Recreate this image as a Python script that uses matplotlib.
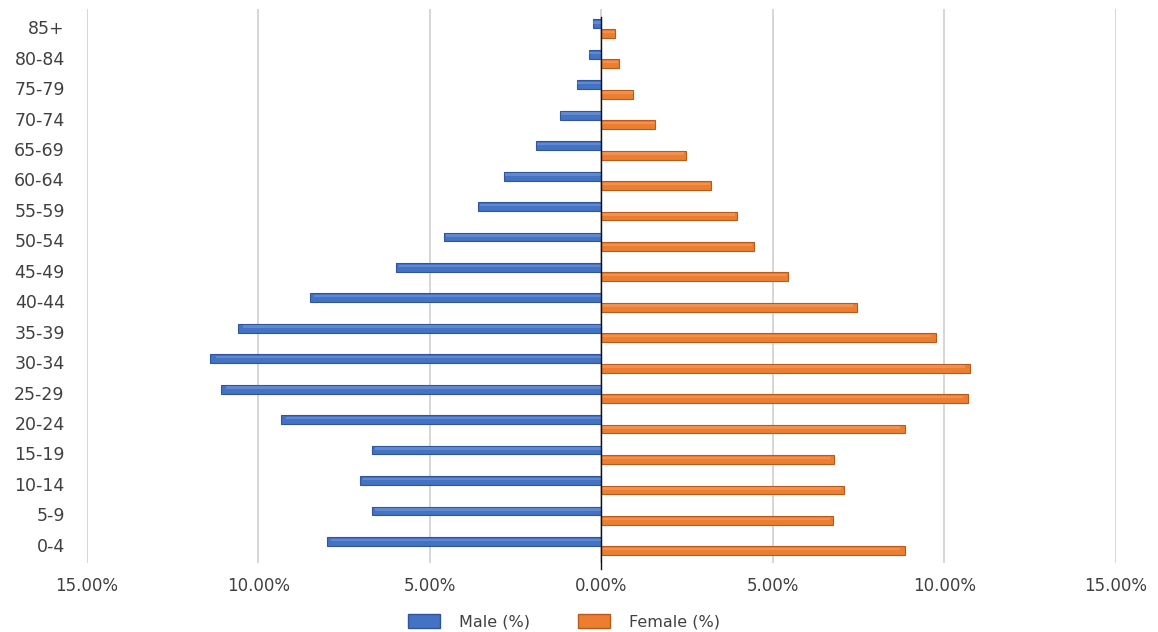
import numpy as np
import matplotlib
matplotlib.use("Agg")
import matplotlib.pyplot as plt
from matplotlib.patches import Patch
from matplotlib.ticker import FuncFormatter

age_groups = ["0-4", "5-9", "10-14", "15-19", "20-24", "25-29", "30-34", "35-39",
              "40-44", "45-49", "50-54", "55-59", "60-64", "65-69", "70-74",
              "75-79", "80-84", "85+"]
male_pct = [8.0, 6.7, 7.05, 6.7, 9.35, 11.1, 11.4, 10.6, 8.5, 6.0, 4.6, 3.6,
            2.85, 1.9, 1.2, 0.72, 0.37, 0.26]
female_pct = [8.85, 6.75, 7.08, 6.77, 8.85, 10.7, 10.75, 9.75, 7.45, 5.45, 4.45,
              3.95, 3.2, 2.45, 1.57, 0.93, 0.5, 0.4]
x_ticks = [-15, -10, -5, 0, 5, 10, 15]

male_color = "#4472C4"
female_color = "#ED7D31"
text_color = "#404040"

fig = plt.figure(figsize=(11.58, 6.32), dpi=100)
ax = fig.add_axes([0.0751, 0.1092, 0.8886, 0.8766])

y = np.arange(len(age_groups))
bar_h = 0.29
male_off = 0.11
female_off = -0.20

male_vals = -np.array(male_pct)
female_vals = np.array(female_pct)


def shaded_bars(ypos, vals, color, dark, light):
    # base bar with darker rim, plus a lighter band on the upper part for a tubular look
    ax.barh(ypos, vals, height=bar_h, color=color, edgecolor=dark,
            linewidth=0.8, zorder=3)
    ax.barh(ypos + bar_h * 0.18, vals * 0.985, height=bar_h * 0.28, color=light,
            linewidth=0, alpha=0.5, zorder=4)


shaded_bars(y + male_off, male_vals, male_color, "#2F559A", "#7FA0DC")
shaded_bars(y + female_off, female_vals, female_color, "#B85A1C", "#F6A66E")

ax.set_xlim(-15, 15)
ax.set_ylim(-0.6, len(age_groups) - 0.4)
ax.set_xticks(x_ticks)
ax.xaxis.set_major_formatter(FuncFormatter(lambda v, p: f"{abs(v):.2f}%"))
ax.set_yticks(y)
ax.set_yticklabels(age_groups)

ax.grid(axis="x", color="#D0D0D0", linewidth=1.2, zorder=0)
ax.grid(axis="y", visible=False)
ax.axvline(0, ymin=-0.01, ymax=0.985, color="#111111", linewidth=1.0,
           zorder=5, clip_on=False)

for s in ax.spines.values():
    s.set_visible(False)
ax.tick_params(axis="both", length=0, colors=text_color)
ax.tick_params(axis="x", pad=10, labelsize=12)
ax.tick_params(axis="y", pad=16, labelsize=12.5)
for lbl in ax.get_xticklabels() + ax.get_yticklabels():
    lbl.set_color(text_color)

handles = [Patch(facecolor=male_color, edgecolor="#2F559A", label="Male (%)"),
           Patch(facecolor=female_color, edgecolor="#B85A1C", label="Female (%)")]
fig.legend(handles=handles, loc="center", bbox_to_anchor=(0.487, 0.016),
           ncol=2, frameon=False, fontsize=11.5, handlelength=2.0,
           handleheight=1.0, columnspacing=3.0, handletextpad=1.2,
           labelcolor=text_color)

fig.savefig("out.png", dpi=100, facecolor="white")
